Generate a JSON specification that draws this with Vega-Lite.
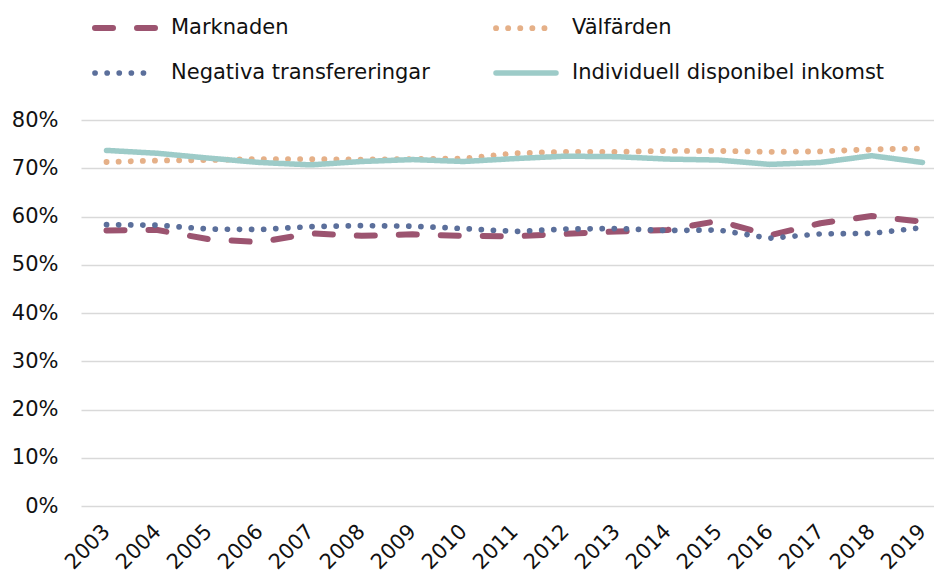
{
  "$schema": "https://vega.github.io/schema/vega-lite/v6.json",
  "autosize": "none",
  "width": 853,
  "height": 386,
  "padding": {"left": 81, "top": 120, "right": 0, "bottom": 70},
  "background": "white",
  "config": {
    "font": "DejaVu Sans",
    "view": {"stroke": null},
    "axis": {"labelFont": "DejaVu Sans", "labelColor": "#111111", "labelFontSize": 21}
  },
  "data": {
    "values": [
      {"year": 2003, "series": "Marknaden", "value": 0.571},
      {"year": 2004, "series": "Marknaden", "value": 0.572},
      {"year": 2005, "series": "Marknaden", "value": 0.553},
      {"year": 2006, "series": "Marknaden", "value": 0.547},
      {"year": 2007, "series": "Marknaden", "value": 0.565},
      {"year": 2008, "series": "Marknaden", "value": 0.560},
      {"year": 2009, "series": "Marknaden", "value": 0.563},
      {"year": 2010, "series": "Marknaden", "value": 0.560},
      {"year": 2011, "series": "Marknaden", "value": 0.559},
      {"year": 2012, "series": "Marknaden", "value": 0.564},
      {"year": 2013, "series": "Marknaden", "value": 0.569},
      {"year": 2014, "series": "Marknaden", "value": 0.572},
      {"year": 2015, "series": "Marknaden", "value": 0.591},
      {"year": 2016, "series": "Marknaden", "value": 0.561},
      {"year": 2017, "series": "Marknaden", "value": 0.586},
      {"year": 2018, "series": "Marknaden", "value": 0.601},
      {"year": 2019, "series": "Marknaden", "value": 0.589},
      {"year": 2003, "series": "Välfärden", "value": 0.713},
      {"year": 2004, "series": "Välfärden", "value": 0.716},
      {"year": 2005, "series": "Välfärden", "value": 0.717},
      {"year": 2006, "series": "Välfärden", "value": 0.719},
      {"year": 2007, "series": "Välfärden", "value": 0.719},
      {"year": 2008, "series": "Välfärden", "value": 0.718},
      {"year": 2009, "series": "Välfärden", "value": 0.719},
      {"year": 2010, "series": "Välfärden", "value": 0.720},
      {"year": 2011, "series": "Välfärden", "value": 0.731},
      {"year": 2012, "series": "Välfärden", "value": 0.734},
      {"year": 2013, "series": "Välfärden", "value": 0.734},
      {"year": 2014, "series": "Välfärden", "value": 0.736},
      {"year": 2015, "series": "Välfärden", "value": 0.736},
      {"year": 2016, "series": "Välfärden", "value": 0.734},
      {"year": 2017, "series": "Välfärden", "value": 0.735},
      {"year": 2018, "series": "Välfärden", "value": 0.739},
      {"year": 2019, "series": "Välfärden", "value": 0.741},
      {"year": 2003, "series": "Negativa transfereringar", "value": 0.583},
      {"year": 2004, "series": "Negativa transfereringar", "value": 0.582},
      {"year": 2005, "series": "Negativa transfereringar", "value": 0.574},
      {"year": 2006, "series": "Negativa transfereringar", "value": 0.573},
      {"year": 2007, "series": "Negativa transfereringar", "value": 0.579},
      {"year": 2008, "series": "Negativa transfereringar", "value": 0.581},
      {"year": 2009, "series": "Negativa transfereringar", "value": 0.580},
      {"year": 2010, "series": "Negativa transfereringar", "value": 0.575},
      {"year": 2011, "series": "Negativa transfereringar", "value": 0.569},
      {"year": 2012, "series": "Negativa transfereringar", "value": 0.574},
      {"year": 2013, "series": "Negativa transfereringar", "value": 0.575},
      {"year": 2014, "series": "Negativa transfereringar", "value": 0.571},
      {"year": 2015, "series": "Negativa transfereringar", "value": 0.572},
      {"year": 2016, "series": "Negativa transfereringar", "value": 0.555},
      {"year": 2017, "series": "Negativa transfereringar", "value": 0.564},
      {"year": 2018, "series": "Negativa transfereringar", "value": 0.565},
      {"year": 2019, "series": "Negativa transfereringar", "value": 0.577},
      {"year": 2003, "series": "Individuell disponibel inkomst", "value": 0.737},
      {"year": 2004, "series": "Individuell disponibel inkomst", "value": 0.731},
      {"year": 2005, "series": "Individuell disponibel inkomst", "value": 0.721},
      {"year": 2006, "series": "Individuell disponibel inkomst", "value": 0.712},
      {"year": 2007, "series": "Individuell disponibel inkomst", "value": 0.707},
      {"year": 2008, "series": "Individuell disponibel inkomst", "value": 0.714},
      {"year": 2009, "series": "Individuell disponibel inkomst", "value": 0.718},
      {"year": 2010, "series": "Individuell disponibel inkomst", "value": 0.714},
      {"year": 2011, "series": "Individuell disponibel inkomst", "value": 0.720},
      {"year": 2012, "series": "Individuell disponibel inkomst", "value": 0.725},
      {"year": 2013, "series": "Individuell disponibel inkomst", "value": 0.724},
      {"year": 2014, "series": "Individuell disponibel inkomst", "value": 0.719},
      {"year": 2015, "series": "Individuell disponibel inkomst", "value": 0.717},
      {"year": 2016, "series": "Individuell disponibel inkomst", "value": 0.708},
      {"year": 2017, "series": "Individuell disponibel inkomst", "value": 0.712},
      {"year": 2018, "series": "Individuell disponibel inkomst", "value": 0.726},
      {"year": 2019, "series": "Individuell disponibel inkomst", "value": 0.712}
    ]
  },
  "mark": {"type": "line", "strokeCap": "round", "strokeJoin": "round"},
  "encoding": {
    "x": {
      "field": "year",
      "type": "quantitative",
      "scale": {"domain": [2002.5, 2019.225], "nice": false, "zero": false},
      "axis": {
        "title": null,
        "values": [2003, 2004, 2005, 2006, 2007, 2008, 2009, 2010, 2011, 2012, 2013, 2014, 2015, 2016, 2017, 2018, 2019],
        "format": "d",
        "labelAngle": -45,
        "labelAlign": "right",
        "labelBaseline": "middle",
        "labelPadding": 22,
        "labelFlush": false,
        "labelOverlap": false,
        "domain": false,
        "ticks": false,
        "grid": false
      }
    },
    "y": {
      "field": "value",
      "type": "quantitative",
      "scale": {"domain": [0, 0.8], "nice": false},
      "axis": {
        "title": null,
        "values": [0, 0.1, 0.2, 0.3, 0.4, 0.5, 0.6, 0.7, 0.8],
        "format": ".0%",
        "domain": false,
        "ticks": false,
        "labelPadding": 23,
        "gridColor": "#d9d9d9",
        "gridWidth": 1.5
      }
    },
    "color": {
      "field": "series",
      "type": "nominal",
      "scale": {
        "domain": ["Marknaden", "Välfärden", "Negativa transfereringar", "Individuell disponibel inkomst"],
        "range": ["#9c5470", "#e5b088", "#5b6f9b", "#9dcbc8"]
      },
      "legend": {
        "title": null,
        "orient": "none",
        "legendX": 11,
        "legendY": -125,
        "direction": "horizontal",
        "columns": 2,
        "columnPadding": 54,
        "rowPadding": 0,
        "padding": 0,
        "symbolType": "stroke",
        "symbolSize": 3600,
        "symbolStrokeWidth": 5.5,
        "labelFont": "DejaVu Sans",
        "labelFontSize": 21,
        "labelColor": "#111111",
        "labelOffset": 13,
        "labelLimit": 400,
        "encoding": {"symbols": {"strokeCap": {"value": "round"}}}
      }
    },
    "strokeDash": {
      "field": "series",
      "type": "nominal",
      "scale": {
        "domain": ["Marknaden", "Välfärden", "Negativa transfereringar", "Individuell disponibel inkomst"],
        "range": [[18, 24], [0.1, 12], [0.1, 12], [1, 0]]
      }
    },
    "strokeWidth": {
      "field": "series",
      "type": "nominal",
      "scale": {
        "domain": ["Marknaden", "Välfärden", "Negativa transfereringar", "Individuell disponibel inkomst"],
        "range": [6, 5.5, 5.5, 6]
      },
      "legend": null
    }
  }
}
